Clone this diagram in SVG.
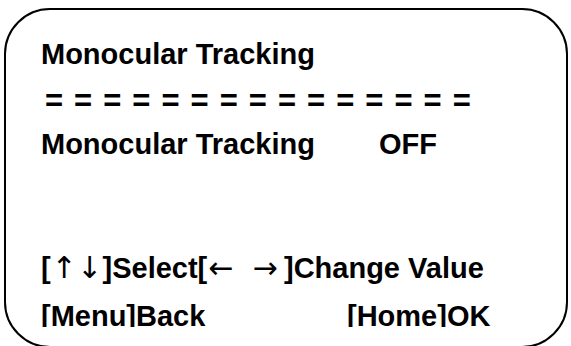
<svg xmlns="http://www.w3.org/2000/svg" width="571" height="346" viewBox="0 0 571 346">
<style>
.t{font-family:"Liberation Sans",Arial,sans-serif;font-weight:bold;font-size:29px;fill:#000}
.ar{font-family:"DejaVu Sans",sans-serif;font-weight:normal;font-size:30px;fill:#000;text-anchor:middle}
.eq{font-family:"Liberation Sans",Arial,sans-serif;font-weight:bold;font-size:31px;fill:#000;letter-spacing:1.2px}
</style>
<defs>
<clipPath id="clip4"><rect x="0" y="0" width="571" height="327"/></clipPath>
</defs>
<rect width="571" height="346" fill="#fff"/>
<g id="frame">
<rect x="5" y="9" width="562" height="338" rx="45" ry="45" fill="none" stroke="#000" stroke-width="2"/>
</g>
<g id="title"><text class="t" x="41" y="64">Monocular Tracking</text></g>
<g id="separator"><text class="eq" x="45" y="111">= = = = = = = = = = = = = = =</text></g>
<g id="item"><text class="t" x="41" y="154">Monocular Tracking</text><text class="t" x="379" y="154">OFF</text></g>
<g id="hint">
<text class="t" x="41" y="278">[</text>
<text class="ar" x="64" y="278">↑</text>
<text class="ar" x="89.5" y="278">↓</text>
<text class="t" x="102.5" y="278">]Select[</text>
<text class="ar" x="221" y="278">←</text>
<text class="ar" x="265" y="278">→</text>
<text class="t" x="284" y="278">]Change Value</text>
</g>
<g id="keys" clip-path="url(#clip4)"><text class="t" x="41" y="326">[Menu]Back</text><text class="t" x="347" y="326">[Home]OK</text></g>
</svg>
